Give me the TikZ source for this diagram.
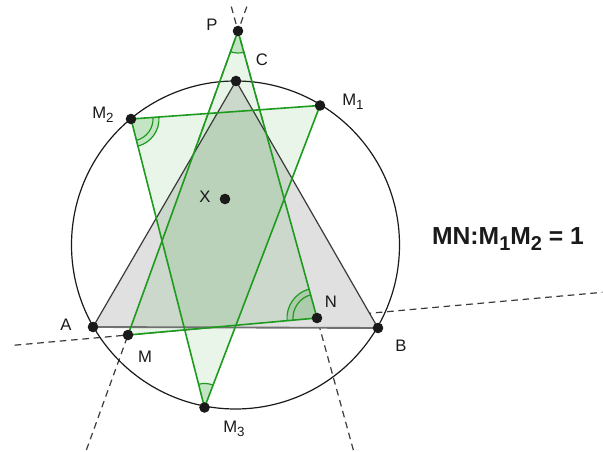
\documentclass[tikz,border=0pt]{standalone}
\usepackage{fontspec}
\setmainfont{Liberation Sans}
\usetikzlibrary{calc}
\definecolor{Leaf}{HTML}{1E9B1E}
\definecolor{Ink}{HTML}{1A1A1A}
\definecolor{Slate}{HTML}{3A3A3A}
\definecolor{Ash}{HTML}{E0E0E0}
\definecolor{Steel}{HTML}{707070}
\newcommand{\lowsub}[2][10]{\raisebox{-0.45ex}{\fontsize{#1}{#1}\selectfont #2}}

\begin{document}
\begin{tikzpicture}[
    x=0.75pt, y=0.75pt,
    every node/.style={font=\fontsize{12.5}{13}\selectfont, text=Ink},
    dot/.style={fill=Ink},
    sideline/.style={Leaf, line width=1.2pt, line join=round},
    guide/.style={Slate, line width=0.9pt, dash pattern=on 5pt off 3.5pt},
    wedge/.style={fill=Leaf, fill opacity=0.18},
    leafarc/.style={Leaf, line width=0.9pt}
]
\useasboundingbox (0,0) rectangle (603,452);

% === Points ===
\coordinate (O) at (235.5,207);
\coordinate (A) at (93,125);
\coordinate (B) at (378,124);
\coordinate (C) at (236,371);
\coordinate (P) at (238,421);
\coordinate (M1) at (320,346.5);
\coordinate (M2) at (131,333);
\coordinate (M3) at (204.5,44.5);
\coordinate (M) at (128,117);
\coordinate (N) at (317,134);
\coordinate (X) at (225,253);

% === Dashed guide lines ===
\draw[guide] ($(M)!-0.6!(N)$) -- ($(M)!2.51!(N)$);
\draw[guide] ($(P)!-0.08!(M)$) -- ($(P)!1.385!(M)$);
\draw[guide] ($(P)!-0.085!(N)$) -- ($(P)!1.467!(N)$);

% === Circle ===
\draw[Ink, line width=0.9pt] (O) circle[radius=164];

% === Triangle ABC ===
\fill[Ash] (A) -- (B) -- (C) -- cycle;

% === Green triangles ===
\fill[Leaf, fill opacity=0.1] (M1) -- (M2) -- (M3) -- cycle;
\fill[Leaf, fill opacity=0.1] (P) -- (M) -- (N) -- cycle;

\draw[Slate, line width=0.9pt, line join=round] (A) -- (C) -- (B);
\draw[Steel, line width=1.4pt] (A) -- (B);

% Angle sectors
\fill[wedge] (M2) -- ++(4.1:28) arc[start angle=4.1, end angle=-75.7, radius=28] -- cycle;
\fill[wedge] (N) -- ++(105.4:30) arc[start angle=105.4, end angle=185.1, radius=30] -- cycle;
\fill[wedge] (P) -- ++(250.1:22) arc[start angle=250.1, end angle=285.4, radius=22] -- cycle;
\fill[wedge] (M3) -- ++(69.1:24) arc[start angle=69.1, end angle=104.3, radius=24] -- cycle;

\draw[sideline] (M1) -- (M2) -- (M3) -- cycle;
\draw[sideline] (P) -- (M) -- (N) -- cycle;

% Angle arcs
\draw[leafarc] (M2) ++(-75.7:22) arc[start angle=-75.7, end angle=4.1, radius=22];
\draw[leafarc] (M2) ++(-75.7:28) arc[start angle=-75.7, end angle=4.1, radius=28];
\draw[leafarc] (N) ++(105.4:24) arc[start angle=105.4, end angle=185.1, radius=24];
\draw[leafarc] (N) ++(105.4:30) arc[start angle=105.4, end angle=185.1, radius=30];
\draw[leafarc] (P) ++(250.1:22) arc[start angle=250.1, end angle=285.4, radius=22];
\draw[leafarc] (M3) ++(69.1:24) arc[start angle=69.1, end angle=104.3, radius=24];

% === Dots ===
\foreach \p in {A,B,C,P,M1,M2,M3,M,N,X}
    \fill[dot] (\p) circle[radius=5.3];

% === Labels ===
\node (lblP) at (212,427) {P};
\node (lblC) at (262,392) {C};
\node (lblM1) at (353,350) {M\lowsub{1}};
\node (lblM2) at (103,337) {M\lowsub{2}};
\node (lblX) at (205,255) {X};
\node (lblA) at (66,127) {A};
\node (lblB) at (401,106) {B};
\node (lblM) at (145,95) {M};
\node (lblN) at (331,150) {N};
\node (lblM3) at (234,23) {M\lowsub{3}};

\node[font=\fontsize{18.5}{20}\bfseries\selectfont] (ratio) at (508,213)
    {MN:M\lowsub[15]{1}M\lowsub[15]{2} = 1};

\end{tikzpicture}
\end{document}
